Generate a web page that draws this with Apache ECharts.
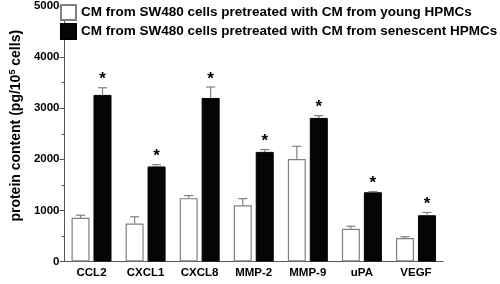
<!DOCTYPE html>
<html>
<head>
<meta charset="utf-8">
<script src="https://cdn.jsdelivr.net/npm/echarts@6/dist/echarts.min.js"></script>
<style>
  html, body { margin: 0; padding: 0; background: #fff; }
  #chart { width: 500px; height: 284px; }
</style>
</head>
<body>
<div id="chart"></div>
<script>
var categories = ["CCL2", "CXCL1", "CXCL8", "MMP-2", "MMP-9", "uPA", "VEGF"];
var youngMean = [855, 745, 1240, 1100, 2005, 640, 460];
var youngErr = [50, 130, 50, 130, 250, 50, 25];
var senescentMean = [3260, 1860, 3200, 2145, 2810, 1355, 905];
var senescentErr = [140, 35, 215, 45, 45, 12, 55];
var significant = [1, 1, 1, 1, 1, 1, 1];
var yTicks = [0, 1000, 2000, 3000, 4000, 5000];

var youngName = "CM from SW480 cells pretreated with CM from young HPMCs";
var oldName = "CM from SW480 cells pretreated with CM from senescent HPMCs";

var barW = 18;
var gapRatio = 0.22;
var font = "Liberation Sans, Arial, sans-serif";

// error bar (+ star) drawn next to each bar of the group
function errorSeries(means, errs, side, stars) {
  var data = means.map(function (m, i) { return [i, m, errs[i], stars ? stars[i] : 0]; });
  return {
    type: "custom",
    z: 5,
    silent: true,
    data: data,
    renderItem: function (params, api) {
      var i = api.value(0);
      var off = side * barW * (1 + gapRatio) / 2;
      var base = api.coord([i, api.value(1)]);
      var top = api.coord([i, api.value(1) + api.value(2)]);
      var x = base[0] + off;
      var cap = 4.5;
      var st = { stroke: "#808080", lineWidth: 1.2 };
      var kids = [
        { type: "line", shape: { x1: x, y1: base[1], x2: x, y2: top[1] }, style: st },
        { type: "line", shape: { x1: x - cap, y1: top[1], x2: x + cap, y2: top[1] }, style: st }
      ];
      if (api.value(3)) {
        kids.push({
          type: "text",
          style: {
            text: "*", x: x, y: top[1] - 8,
            align: "center", verticalAlign: "middle",
            font: "bold 17px " + font, fill: "#000"
          }
        });
      }
      return { type: "group", children: kids };
    }
  };
}

var chart = echarts.init(document.getElementById("chart"));
chart.setOption({
  animation: false,
  textStyle: { fontFamily: font },
  grid: { left: 57, right: 57, top: 5, bottom: 22.5 },
  legend: {
    orient: "vertical",
    left: 60, top: 4, padding: 0,
    itemWidth: 15, itemHeight: 15, itemGap: 2,
    icon: "rect",
    textStyle: { fontSize: 13.5, fontWeight: "bold", color: "#000" },
    data: [youngName, oldName]
  },
  xAxis: {
    type: "category",
    data: categories,
    axisLine: { lineStyle: { color: "#555", width: 1 } },
    axisTick: { show: false },
    axisLabel: { color: "#000", fontSize: 11.5, fontWeight: "bold", margin: 5 }
  },
  yAxis: {
    type: "value",
    min: yTicks[0], max: yTicks[yTicks.length - 1], interval: 1000,
    name: "protein content (pg/10{sup|5} cells)",
    nameLocation: "middle",
    nameGap: 37,
    nameRotate: 90,
    nameTextStyle: {
      fontSize: 14, fontWeight: "bold", color: "#000",
      padding: [0, 0, 0, 16],
      rich: { sup: { fontSize: 9, fontWeight: "bold", color: "#000", verticalAlign: "top", padding: [0, 0, 7, 0] } }
    },
    axisLine: { show: true, lineStyle: { color: "#555", width: 1 } },
    axisTick: { show: true, length: 5, lineStyle: { color: "#555" } },
    minorTick: { show: true, splitNumber: 2, length: 3, lineStyle: { color: "#555" } },
    splitLine: { show: false },
    axisLabel: {
      color: "#000", fontSize: 11.5, fontWeight: "bold", margin: 5,
      formatter: function (v) { return String(v); }
    }
  },
  series: [
    {
      name: youngName, type: "bar",
      data: youngMean,
      barWidth: barW, barGap: (gapRatio * 100) + "%",
      itemStyle: { color: "#fff", borderColor: "#808080", borderWidth: 1.2 }
    },
    {
      name: oldName, type: "bar",
      data: senescentMean,
      barWidth: barW, barGap: (gapRatio * 100) + "%",
      itemStyle: { color: "#050505", borderColor: "#000", borderWidth: 1 }
    },
    errorSeries(youngMean, youngErr, -1, null),
    errorSeries(senescentMean, senescentErr, 1, significant)
  ]
});
</script>
</body>
</html>
